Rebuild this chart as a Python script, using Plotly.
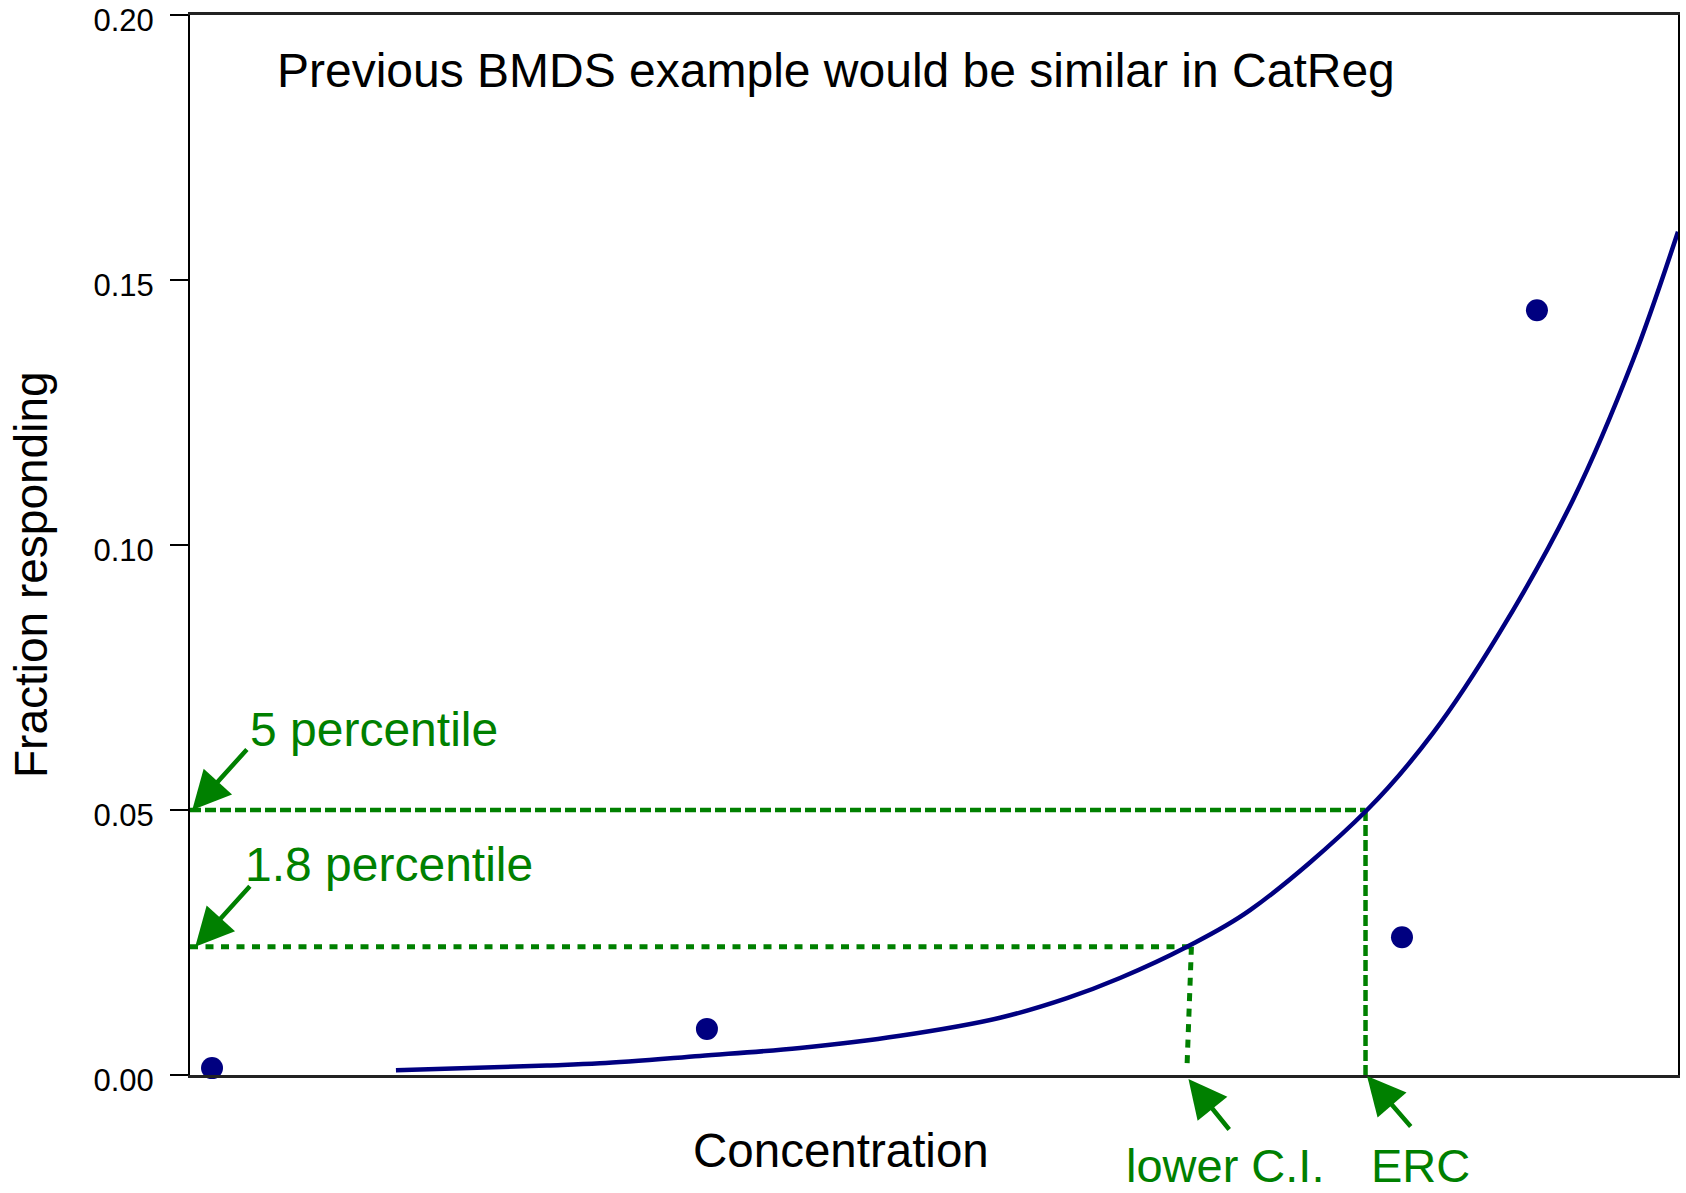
import plotly.graph_objects as go

# ---- data ----
conc_obs = [1.48, 34.74, 81.45, 90.52]
frac_obs = [0.0013, 0.0087, 0.026, 0.1443]

curve_x = [13.84, 23.99, 27.55, 34.27, 40.99, 47.72, 54.44, 58.94, 62.50, 67.00,
           71.24, 79.10, 83.53, 88.04, 92.94, 96.98, 100.0]
curve_y = [0.0009, 0.0018, 0.0022, 0.0036, 0.0051, 0.0074, 0.0108, 0.0145, 0.0183, 0.0242,
           0.0311, 0.0500, 0.0645, 0.0836, 0.1085, 0.1349, 0.1591]

pct5_level = 0.05
pct18_level = 0.0242
erc_x = 79.0
lci_x_top = 67.3
lci_x_bottom = 67.0
lci_y_bottom = 0.0013

y_tickvals = [0.0, 0.05, 0.10, 0.15, 0.20]
y_ticktext = ["0.00", "0.05", "0.10", "0.15", "0.20"]

NAVY = "#000080"
GREEN = "#008000"
FONT = "Arial, Liberation Sans, sans-serif"

fig = go.Figure()

# dashed reference lines
fig.add_trace(go.Scatter(x=[0, erc_x], y=[pct5_level, pct5_level], mode="lines",
                         line=dict(color=GREEN, width=4.5, dash="11px,4px"),
                         hoverinfo="skip", cliponaxis=False))
fig.add_trace(go.Scatter(x=[erc_x, erc_x], y=[pct5_level, 0], mode="lines",
                         line=dict(color=GREEN, width=4.5, dash="11px,4px"),
                         hoverinfo="skip", cliponaxis=False))
fig.add_trace(go.Scatter(x=[0, lci_x_top], y=[pct18_level, pct18_level], mode="lines",
                         line=dict(color=GREEN, width=5, dash="8px,7.5px"),
                         hoverinfo="skip", cliponaxis=False))
fig.add_trace(go.Scatter(x=[lci_x_top, lci_x_bottom], y=[pct18_level, lci_y_bottom], mode="lines",
                         line=dict(color=GREEN, width=5, dash="8px,7.5px"),
                         hoverinfo="skip", cliponaxis=False))

# fitted curve
fig.add_trace(go.Scatter(x=curve_x, y=curve_y, mode="lines",
                         line=dict(color=NAVY, width=4.5, shape="spline", smoothing=1.0),
                         hoverinfo="skip", cliponaxis=False))

# observed points
fig.add_trace(go.Scatter(x=conc_obs, y=frac_obs, mode="markers",
                         marker=dict(color=NAVY, size=22, line=dict(width=0)),
                         cliponaxis=False))

# page-pixel -> paper helpers (plot area spans page x 190..1678, y 15..1075)
def px2paper_x(px):
    return (px - 190) / 1488.0

def px2paper_y(py):
    return (1075 - py) / 1060.0

annotations = [
    dict(text="Previous BMDS example would be similar in CatReg", xref="paper", yref="paper",
         x=px2paper_x(275), y=px2paper_y(71), xanchor="left", yanchor="middle",
         showarrow=False, font=dict(size=48, color="black", family=FONT)),
    dict(text="Fraction responding", xref="paper", yref="paper",
         x=px2paper_x(31), y=px2paper_y(575), xanchor="center", yanchor="middle",
         textangle=-90, showarrow=False, font=dict(size=46, color="black", family=FONT)),
    dict(text="Concentration", xref="paper", yref="paper",
         x=px2paper_x(841), y=px2paper_y(1150), xanchor="center", yanchor="middle",
         showarrow=False, font=dict(size=47.5, color="black", family=FONT)),
    dict(text="5 percentile", xref="paper", yref="paper",
         x=px2paper_x(248), y=px2paper_y(729), xanchor="left", yanchor="middle",
         showarrow=False, font=dict(size=48, color=GREEN, family=FONT)),
    dict(text="1.8 percentile", xref="paper", yref="paper",
         x=px2paper_x(243), y=px2paper_y(865), xanchor="left", yanchor="middle",
         showarrow=False, font=dict(size=48, color=GREEN, family=FONT)),
    dict(text="lower C.I.", xref="paper", yref="paper",
         x=px2paper_x(1124), y=px2paper_y(1165), xanchor="left", yanchor="middle",
         showarrow=False, font=dict(size=47, color=GREEN, family=FONT)),
    dict(text="ERC", xref="paper", yref="paper",
         x=px2paper_x(1369), y=px2paper_y(1165), xanchor="left", yanchor="middle",
         showarrow=False, font=dict(size=47, color=GREEN, family=FONT)),
]

arrow_common = dict(text="", showarrow=True, arrowhead=2, arrowsize=1.7, arrowwidth=4.5,
                    arrowcolor=GREEN, standoff=0, startstandoff=0)
annotations += [
    dict(xref="x", yref="y", x=0.15, y=pct5_level, ax=56, ay=-62, **arrow_common),
    dict(xref="x", yref="y", x=0.35, y=pct18_level, ax=56, ay=-62, **arrow_common),
    dict(xref="x", yref="paper", x=lci_x_bottom + 0.1, y=px2paper_y(1079), ax=42, ay=52, **arrow_common),
    dict(xref="x", yref="paper", x=erc_x + 0.1, y=px2paper_y(1076), ax=45, ay=52, **arrow_common),
]

fig.update_layout(
    width=1686, height=1193,
    margin=dict(l=190, r=8, t=15, b=118, pad=0),
    paper_bgcolor="white", plot_bgcolor="white",
    showlegend=False,
    font=dict(family=FONT, color="black"),
    annotations=annotations,
    xaxis=dict(range=[0, 100], showgrid=False, zeroline=False, showticklabels=False,
               ticks="", showline=True, linecolor="#222222", linewidth=2.5, mirror=True,
               automargin=False, fixedrange=True),
    yaxis=dict(range=[0, 0.2], showgrid=False, zeroline=False,
               tickmode="array", tickvals=y_tickvals, ticktext=y_ticktext,
               ticks="outside", ticklen=18, tickwidth=1.5, tickcolor="black",
               tickfont=dict(size=31, family=FONT, color="black"),
               ticklabelstandoff=10, ticklabelshift=5, ticklabeloverflow="allow",
               showline=True, linecolor="black", linewidth=2, mirror=True,
               automargin=False, fixedrange=True),
)

# remove the default 8px page margin so the figure sits at the window's top-left corner
fig.write_html("out.html", config={"displayModeBar": False},
               post_script="document.body.style.margin='0px';")
